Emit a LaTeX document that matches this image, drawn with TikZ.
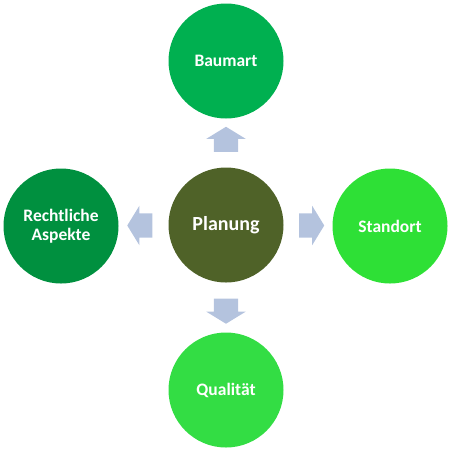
\documentclass[tikz,border=0pt]{standalone}
\usepackage{fontspec}
\setmainfont{Carlito}
\usetikzlibrary{shapes.arrows,calc}

\definecolor{gruenoben}{HTML}{00B050}
\definecolor{gruenlinks}{HTML}{00903F}
\definecolor{gruenrechts}{HTML}{2EE036}
\definecolor{gruenunten}{HTML}{33DD44}
\definecolor{oliv}{HTML}{4F6228}
\definecolor{pfeilblau}{HTML}{B4C3DE}

\begin{document}
\begin{tikzpicture}[x=1pt,y=-1pt,
  kreis/.style={circle, minimum size=115pt, inner sep=0pt, text=white,
    align=center, font=\bfseries\fontsize{17.5}{19}\selectfont},
  pfeil/.style={single arrow, fill=pfeilblau, draw=none,
    inner xsep=0pt, inner ysep=12pt, minimum height=25pt,
    single arrow head extend=7.5pt, single arrow tip angle=117}]

  \useasboundingbox (0,0) rectangle (454,450);

%%%%%%%%%%%%%%%%%%%%%%%%%%%%%%%%%%%%%%%%%%
  % Circles
  \node[kreis, fill=oliv, font=\bfseries\fontsize{20}{23}\selectfont]
    (planung) at (226,225) {Planung};
  \node[kreis, fill=gruenoben] (baumart) at (226,61) {Baumart};
  \node[kreis, fill=gruenlinks] (recht) at (61,226) {Rechtliche\\Aspekte};
  \node[kreis, fill=gruenrechts] (standort) at (390,226) {Standort};
  \node[kreis, fill=gruenunten] (qualitaet) at (226,390) {Qualität};

%%%%%%%%%%%%%%%%%%%%%%%%%%%%%%%%%%%%%%%%%%
  % Block arrows between the circles
  \node[pfeil, rotate=90] (pfoben) at ($(planung)!0.5!(baumart)$) {};
  \node[pfeil, rotate=180] (pflinks) at ($(planung)!0.5!(recht)$) {};
  \node[pfeil] (pfrechts) at ($(planung)!0.5!(standort)$) {};
  \node[pfeil, rotate=-90] (pfunten) at ($(planung)!0.5!(qualitaet)$) {};

\end{tikzpicture}
\end{document}
